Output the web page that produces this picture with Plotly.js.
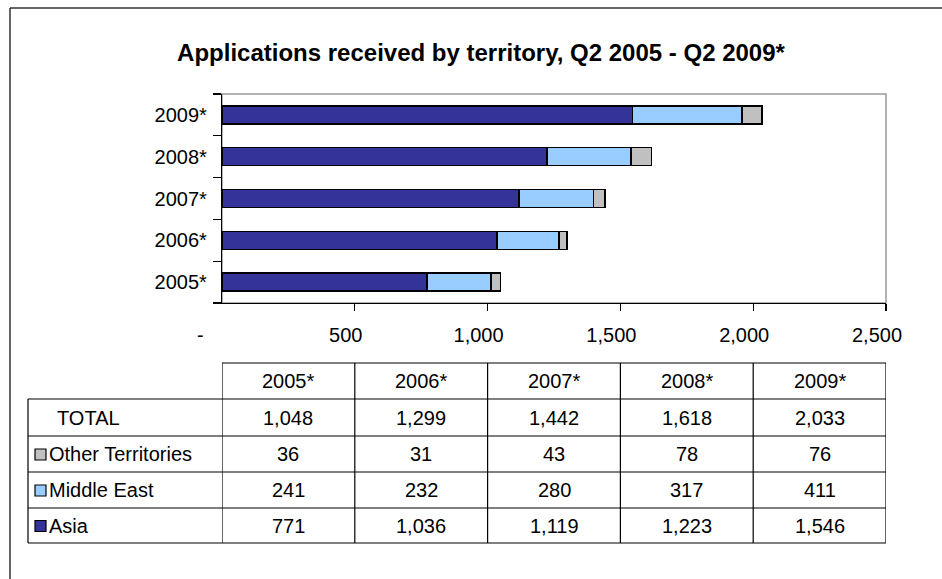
<!DOCTYPE html>
<html>
<head>
<meta charset="utf-8">
<script src="https://cdn.plot.ly/plotly-3.0.1.min.js"></script>
<style>html,body{margin:0;padding:0;background:#fff;}</style>
</head>
<body>
<div id="chart" style="width:942px;height:579px"></div>
<script>
// ---- data ----
const years = ['2005*', '2006*', '2007*', '2008*', '2009*'];
const asia = [771, 1036, 1119, 1223, 1546];
const middleEast = [241, 232, 280, 317, 411];
const otherTerritories = [36, 31, 43, 78, 76];
const totals = [1048, 1299, 1442, 1618, 2033];
const seriesNames = ['Asia', 'Middle East', 'Other Territories'];
const xTickVals = [500, 1000, 1500, 2000, 2500];
const xTickText = ['500', '1,000', '1,500', '2,000', '2,500'];
const zeroLabel = '-';
const tableRowLabels = ['TOTAL', 'Other Territories', 'Middle East', 'Asia'];
const titleText = 'Applications received by territory, Q2 2005 - Q2 2009*';

// ---- style / geometry ----
const W = 942, H = 579;
const M = {l: 222, r: 56, t: 94, b: 276};
const PW = W - M.l - M.r, PH = H - M.t - M.b;
const px = x => (x - M.l) / PW;
const py = y => (H - M.b - y) / PH;
const colAsia = '#333399', colME = '#99CCFF', colOther = '#C0C0C0';
const FONT = 'Liberation Sans, Arial, sans-serif';
const FS = 20;

const traces = [
  {type: 'bar', orientation: 'h', name: seriesNames[0], y: years, x: asia,
   marker: {color: colAsia, line: {color: '#000', width: 1.5}}},
  {type: 'bar', orientation: 'h', name: seriesNames[1], y: years, x: middleEast,
   marker: {color: colME, line: {color: '#000', width: 1.5}}},
  {type: 'bar', orientation: 'h', name: seriesNames[2], y: years, x: otherTerritories,
   marker: {color: colOther, line: {color: '#000', width: 1.5}}}
];

const shapes = [];
const annotations = [];

// figure frame (left and top)
shapes.push({type: 'line', xref: 'paper', yref: 'paper', x0: px(10), x1: px(10), y0: py(8), y1: py(H + 5), line: {color: '#333', width: 1.5}});
shapes.push({type: 'line', xref: 'paper', yref: 'paper', x0: px(10), x1: px(W + 5), y0: py(8), y1: py(8), line: {color: '#333', width: 1.5}});
// plot area border
shapes.push({type: 'rect', xref: 'paper', yref: 'paper', x0: 0, x1: 1, y0: 0, y1: 1, layer: 'below', line: {color: '#999', width: 1.5}});

// zero label
annotations.push({xref: 'x', yref: 'paper', x: 0, y: py(335), xshift: -22, text: zeroLabel, showarrow: false,
  font: {family: FONT, size: FS, color: '#000'}, xanchor: 'center', yanchor: 'middle'});

// ---- data table ----
const headTop = 363;
const rowTops = [399, 436, 472, 508];
const tableBottom = 543;
const tableLeft = 28;
const rowValues = [totals, otherTerritories, middleEast, asia];
const keyColors = [null, colOther, colME, colAsia];
const colEdges = [0].concat(xTickVals);

shapes.push({type: 'line', xref: 'paper', yref: 'paper', x0: 0, x1: 1, y0: py(headTop), y1: py(headTop), line: {color: '#000', width: 1.2}});
rowTops.forEach(t => {
  shapes.push({type: 'line', xref: 'paper', yref: 'paper', x0: px(tableLeft), x1: 1, y0: py(t), y1: py(t), line: {color: '#555', width: 1.4}});
});
shapes.push({type: 'line', xref: 'paper', yref: 'paper', x0: px(tableLeft), x1: 1, y0: py(tableBottom), y1: py(tableBottom), line: {color: '#000', width: 1.2}});
colEdges.forEach(v => {
  shapes.push({type: 'line', xref: 'x', yref: 'paper', x0: v, x1: v, y0: py(headTop), y1: py(tableBottom), line: {color: '#000', width: 1.2}});
});
shapes.push({type: 'line', xref: 'paper', yref: 'paper', x0: px(tableLeft), x1: px(tableLeft), y0: py(rowTops[0]), y1: py(tableBottom), line: {color: '#000', width: 1.2}});

years.forEach((yr, j) => {
  annotations.push({xref: 'x', yref: 'paper', x: (colEdges[j] + colEdges[j + 1]) / 2, y: py(headTop + 18),
    text: yr, showarrow: false, font: {family: FONT, size: FS, color: '#000'}, xanchor: 'center', yanchor: 'middle'});
});
const fmt = v => v.toLocaleString('en-US');
tableRowLabels.forEach((lab, i) => {
  const top = rowTops[i];
  const bottom = i < rowTops.length - 1 ? rowTops[i + 1] : tableBottom;
  const cy = (top + bottom) / 2;
  if (keyColors[i]) {
    shapes.push({type: 'rect', xref: 'paper', yref: 'paper', x0: px(35), x1: px(46), y0: py(cy - 5), y1: py(cy + 6),
      fillcolor: keyColors[i], line: {color: '#000', width: 1.2}});
  }
  annotations.push({xref: 'paper', yref: 'paper', x: px(keyColors[i] ? 47 : 55), y: py(cy), text: lab, showarrow: false,
    font: {family: FONT, size: FS, color: '#000'}, xanchor: 'left', yanchor: 'middle'});
  rowValues[i].forEach((v, j) => {
    annotations.push({xref: 'x', yref: 'paper', x: (colEdges[j] + colEdges[j + 1]) / 2, y: py(cy),
      text: fmt(v), showarrow: false, font: {family: FONT, size: FS, color: '#000'}, xanchor: 'center', yanchor: 'middle'});
  });
});

const layout = {
  width: W, height: H,
  margin: M,
  paper_bgcolor: '#fff', plot_bgcolor: '#fff',
  showlegend: false,
  barmode: 'stack',
  bargap: 0.57,
  title: {text: '<b>' + titleText + '</b>', x: 481 / W, xref: 'container', xanchor: 'center', y: 1 - 53 / H, yanchor: 'middle',
    font: {family: FONT, size: 24, color: '#000'}},
  xaxis: {range: [0, 2500], tickvals: xTickVals, ticktext: xTickText, ticks: 'outside', ticklen: 7, tickwidth: 1.2, tickcolor: '#000',
    showline: true, linecolor: '#000', linewidth: 1.2, showgrid: false, zeroline: false,
    ticklabelshift: -9, ticklabelstandoff: 7, tickfont: {family: FONT, size: FS, color: '#000'}, fixedrange: true},
  yaxis: {type: 'category', categoryorder: 'array', categoryarray: years, tickson: 'boundaries', ticks: 'outside', ticklen: 8,
    tickwidth: 1.2, tickcolor: '#000', showline: true, linecolor: '#000', linewidth: 1.2, showgrid: false,
    ticklabelstandoff: 10, tickfont: {family: FONT, size: FS, color: '#000'}, fixedrange: true},
  shapes: shapes,
  annotations: annotations
};

Plotly.newPlot('chart', traces, layout, {displayModeBar: false, staticPlot: true});
</script>
</body>
</html>
